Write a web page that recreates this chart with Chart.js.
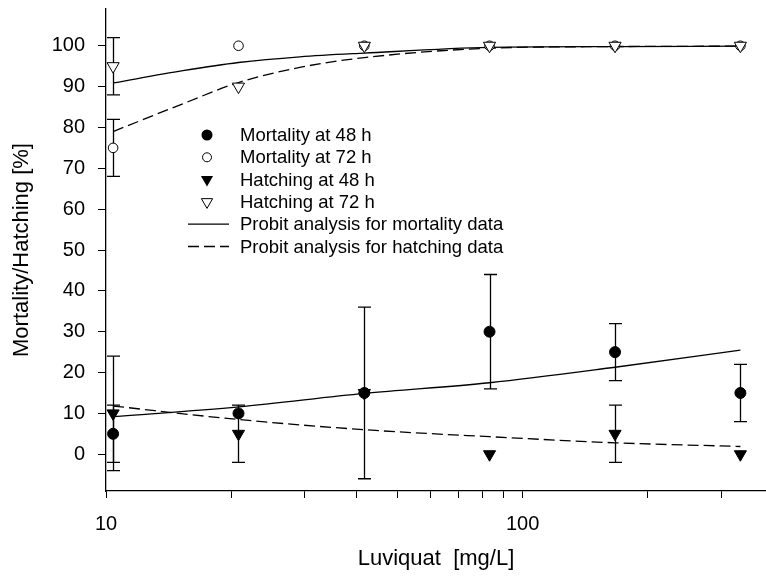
<!DOCTYPE html>
<html><head><meta charset="utf-8">
<script src="https://cdn.jsdelivr.net/npm/chart.js@4"></script>
<style>html,body{margin:0;padding:0;background:#fff}#wrap{width:766px;height:578px;position:relative}</style>
</head><body><div id="wrap"><canvas id="c" width="766" height="578"></canvas></div>
<script>
// ---- data ----
const concentrations = [10.4, 20.8, 41.7, 83.3, 166.7, 333.3];
const mortality48 = [5, 10, 15, 30, 25, 15];
const mortality48Err = [7, 0, 21, 14, 7, 7];
const mortality72 = [75, 100, 100, 100, 100, 100];
const mortality72Err = [7, 0, 0, 0, 0, 0];
const hatching48 = [10, 5, 15, 0, 5, 0];
const hatching48Err = [14, 7, 0, 0, 7, 0];
const hatching72 = [95, 90, 100, 100, 100, 100];
const hatching72Err = [7, 0, 0, 0, 0, 0];

const probitUpperX = [10.4, 15.3, 20.8, 29.2, 41.7, 83.3, 166.7, 333.3];
const probitMortality72 = [90.9, 93.9, 95.9, 97.3, 98.2, 99.6, 99.8, 99.9];
const probitHatching72 = [79.0, 85.8, 91.0, 94.7, 97.1, 99.4, 99.8, 99.9];
const probitLowerX = [10.4, 20.8, 41.7, 83.3, 166.7, 333.3];
const probitMortality48 = [9.2, 11.6, 14.9, 17.5, 21.3, 25.5];
const probitHatching48 = [11.8, 8.5, 6.0, 4.3, 2.8, 1.9];

const xTicks = [10, 20, 30, 40, 50, 60, 70, 80, 90, 100, 200, 300];
const xTickLabels = [10, 100];
const yTicks = [0, 10, 20, 30, 40, 50, 60, 70, 80, 90, 100];

const legendLabels = ['Mortality at 48 h', 'Mortality at 72 h', 'Hatching at 48 h', 'Hatching at 72 h',
  'Probit analysis for mortality data', 'Probit analysis for hatching data'];

const FONT = "'Liberation Sans', Arial, sans-serif";
const DASH = [11, 5];

function pts(xs, ys) { return xs.map((x, i) => ({ x: x, y: ys[i] })); }

const errorSets = [
  [mortality48, mortality48Err], [mortality72, mortality72Err],
  [hatching48, hatching48Err], [hatching72, hatching72Err]
];

const errorBarPlugin = {
  id: 'errorBars',
  beforeDatasetsDraw(chart) {
    const { ctx, scales: { x, y } } = chart;
    ctx.save();
    ctx.strokeStyle = '#000';
    ctx.lineWidth = 1.3;
    errorSets.forEach(([vals, errs]) => {
      vals.forEach((v, i) => {
        const e = errs[i];
        if (!e) return;
        const px = Math.round(x.getPixelForValue(concentrations[i])) + 0.5;
        const t = y.getPixelForValue(v + e), b = y.getPixelForValue(v - e);
        ctx.beginPath();
        ctx.moveTo(px, t); ctx.lineTo(px, b);
        ctx.moveTo(px - 6.5, t); ctx.lineTo(px + 6.5, t);
        ctx.moveTo(px - 6.5, b); ctx.lineTo(px + 6.5, b);
        ctx.stroke();
      });
    });
    ctx.restore();
  }
};

function tri(ctx, cx, cy, r) {
  const h = r * Math.sqrt(3) / 2;
  ctx.beginPath();
  ctx.moveTo(cx - h, cy - r / 2);
  ctx.lineTo(cx + h, cy - r / 2);
  ctx.lineTo(cx, cy + r);
  ctx.closePath();
}

const legendPlugin = {
  id: 'customLegend',
  afterDraw(chart) {
    const ctx = chart.ctx;
    const mx = 207, tx = 240, y0 = 135, dy = 22.3;
    ctx.save();
    ctx.fillStyle = '#000';
    ctx.strokeStyle = '#000';
    ctx.lineWidth = 1;
    ctx.beginPath(); ctx.arc(mx, y0, 5.5, 0, Math.PI * 2); ctx.fill();
    ctx.beginPath(); ctx.arc(mx, y0 + dy, 4.5, 0, Math.PI * 2);
    ctx.fillStyle = '#fff'; ctx.fill(); ctx.stroke(); ctx.fillStyle = '#000';
    tri(ctx, mx, y0 + 2 * dy, 7); ctx.fill();
    tri(ctx, mx, y0 + 3 * dy, 6.5); ctx.fillStyle = '#fff'; ctx.fill(); ctx.stroke(); ctx.fillStyle = '#000';
    ctx.lineWidth = 1.3;
    ctx.beginPath(); ctx.moveTo(188, y0 + 4 * dy); ctx.lineTo(229, y0 + 4 * dy); ctx.stroke();
    ctx.setLineDash(DASH);
    ctx.beginPath(); ctx.moveTo(188, y0 + 5 * dy); ctx.lineTo(229, y0 + 5 * dy); ctx.stroke();
    ctx.setLineDash([]);
    ctx.font = '18.5px ' + FONT;
    ctx.textBaseline = 'middle';
    ctx.textAlign = 'left';
    legendLabels.forEach((t, i) => ctx.fillText(t, tx, y0 + i * dy + 1));
    ctx.restore();
  }
};

const markerBase = { showLine: false, borderColor: '#000', borderWidth: 1 };
const lineBase = { showLine: true, pointRadius: 0, borderColor: '#000', borderWidth: 1.3, cubicInterpolationMode: 'monotone', fill: false };

new Chart(document.getElementById('c'), {
  type: 'scatter',
  data: {
    datasets: [
      Object.assign({}, markerBase, { label: legendLabels[3], data: pts(concentrations, hatching72), order: 1,
        pointStyle: 'triangle', rotation: 180, pointRadius: 7, backgroundColor: '#fff' }),
      Object.assign({}, markerBase, { label: legendLabels[1], data: pts(concentrations, mortality72), order: 2,
        pointStyle: 'circle', pointRadius: 4.8, backgroundColor: '#fff' }),
      Object.assign({}, markerBase, { label: legendLabels[2], data: pts(concentrations, hatching48), order: 3,
        pointStyle: 'triangle', rotation: 180, pointRadius: 7, backgroundColor: '#000' }),
      Object.assign({}, markerBase, { label: legendLabels[0], data: pts(concentrations, mortality48), order: 0,
        pointStyle: 'circle', pointRadius: 5.5, backgroundColor: '#000' }),
      Object.assign({}, lineBase, { label: legendLabels[4], data: pts(probitUpperX, probitMortality72), order: 5 }),
      Object.assign({}, lineBase, { label: legendLabels[4], data: pts(probitLowerX, probitMortality48), order: 5 }),
      Object.assign({}, lineBase, { label: legendLabels[5], data: pts(probitUpperX, probitHatching72), order: 6, borderDash: DASH }),
      Object.assign({}, lineBase, { label: legendLabels[5], data: pts(probitLowerX, probitHatching48), order: 6, borderDash: DASH })
    ]
  },
  options: {
    responsive: false,
    animation: false,
    devicePixelRatio: 1,
    layout: { autoPadding: false, padding: { top: 9, right: 0, bottom: 0, left: 0 } },
    plugins: { legend: { display: false }, tooltip: { enabled: false } },
    scales: {
      x: {
        type: 'logarithmic', min: 10, max: 384, bounds: 'data', position: 'bottom',
        afterBuildTicks: s => { s.ticks = xTicks.map(v => ({ value: v })); },
        afterFit: s => { s.height = 87; s.paddingLeft = 0; s.paddingRight = 0; },
        ticks: {
          autoSkip: false, maxRotation: 0, minRotation: 0, color: '#000', padding: 14,
          font: { family: FONT, size: 20 },
          callback: v => xTickLabels.includes(v) ? String(v) : ''
        },
        grid: { drawOnChartArea: false, drawTicks: true, tickLength: 7, color: '#000', lineWidth: 1 },
        border: { display: true, color: '#000', width: 1.3 },
        title: { display: true, text: 'Luviquat  [mg/L]', color: '#000', font: { family: FONT, size: 22 }, padding: { top: 0, bottom: 6 } }
      },
      y: {
        type: 'linear', min: -9, max: 109, position: 'left',
        afterBuildTicks: s => { s.ticks = yTicks.map(v => ({ value: v })); },
        afterFit: s => { s.width = 106; s.paddingTop = 0; s.paddingBottom = 0; },
        ticks: { color: '#000', padding: 13, font: { family: FONT, size: 20 } },
        grid: { drawOnChartArea: false, drawTicks: true, tickLength: 8, color: '#000', lineWidth: 1 },
        border: { display: true, color: '#000', width: 1.3 },
        title: { display: true, text: 'Mortality/Hatching [%]', color: '#000', font: { family: FONT, size: 22 }, padding: { top: 9, bottom: 0 } }
      }
    }
  },
  plugins: [errorBarPlugin, legendPlugin]
});
</script></body></html>
